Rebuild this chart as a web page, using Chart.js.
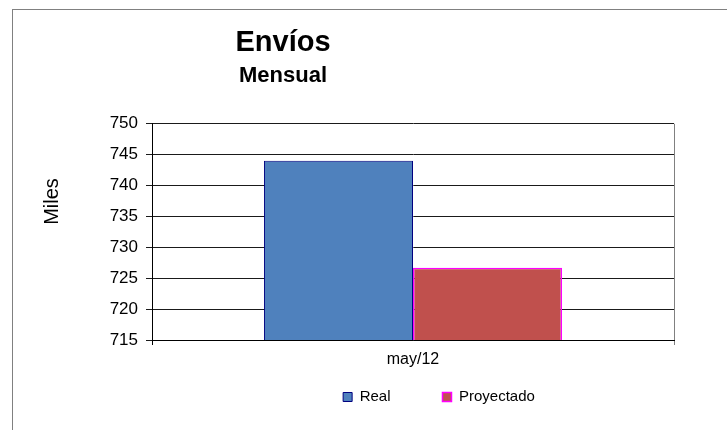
<!DOCTYPE html>
<html>
<head>
<meta charset="utf-8">
<script src="https://cdn.jsdelivr.net/npm/chart.js@4.4.1/dist/chart.umd.min.js"></script>
<style>
html, body { margin: 0; padding: 0; background: #fff; overflow: hidden; }
#frame { position: absolute; left: 12px; top: 9px; width: 760px; height: 460px;
         border-left: 1px solid #808080; border-top: 1px solid #808080; }
#wrap { position: absolute; left: 0; top: 0; width: 727px; height: 430px; }
</style>
</head>
<body>
<div id="frame"></div>
<div id="wrap"><canvas id="chart" width="727" height="430"></canvas></div>
<script>
const CATEGORIES = ['may/12'];
const REAL = [744.0];
const PROYECTADO = [726.7];
const SERIES_NAMES = ['Real', 'Proyectado'];
const Y_MIN = 715, Y_MAX = 750, Y_STEP = 5;
const TITLE = 'Envíos';
const SUBTITLE = 'Mensual';
const AXIS_TITLE = 'Miles';

const FONT = '"Liberation Sans", Arial, sans-serif';
Chart.defaults.font.family = FONT;
Chart.defaults.color = '#000';

// Excel left the titles off-centre and the legend right of centre; move the boxes after layout
const excelPlacement = {
    id: 'excelPlacement',
    afterLayout(chart) {
        chart.boxes.forEach(b => {
            if (b.options && typeof b.options.text === 'string') { b.left = 0; b.right = 566; }
        });
        const lg = chart.legend;
        lg.left = 239; lg.right = 639;
        lg.top = 337.5; lg.bottom = 430;
    },
    afterDraw(chart) {
        const ctx = chart.ctx;
        ctx.save();
        ctx.translate(58, 201.5);
        ctx.rotate(-Math.PI / 2);
        ctx.font = '20px ' + FONT;
        ctx.fillStyle = '#000';
        ctx.textAlign = 'center';
        ctx.textBaseline = 'alphabetic';
        ctx.fillText(AXIS_TITLE, 0, 0);
        ctx.restore();
    }
};

new Chart(document.getElementById('chart'), {
    type: 'bar',
    data: {
        labels: CATEGORIES,
        datasets: [{
            label: SERIES_NAMES[0],
            data: REAL,
            backgroundColor: '#4F81BD',
            borderColor: '#000080',
            borderWidth: 1,
            borderSkipped: false
        }, {
            label: SERIES_NAMES[1],
            data: PROYECTADO,
            backgroundColor: '#C0504D',
            borderColor: '#FF00FF',
            borderWidth: 1.5,
            borderSkipped: false
        }]
    },
    options: {
        responsive: false,
        animation: false,
        categoryPercentage: 0.571,
        barPercentage: 1,
        layout: { padding: { left: 0, right: 53, top: 0, bottom: 0 } },
        scales: {
            x: {
                offset: true,
                grid: {
                    offset: true,
                    color: ctx => ctx.index === 0 ? '#000' : '#808080',
                    lineWidth: 1,
                    tickLength: 5
                },
                border: { color: '#000', width: 1 },
                ticks: { font: { size: 16 }, padding: 5, color: '#000' },
                afterFit: s => { s.height = 50; }
            },
            y: {
                min: Y_MIN,
                max: Y_MAX,
                ticks: { stepSize: Y_STEP, font: { size: 17 }, padding: 8, color: '#000' },
                grid: { color: '#1a1a1a', lineWidth: 1, tickLength: 6 },
                border: { color: '#000', width: 1 },
                afterFit: s => { s.width = 152; }
            }
        },
        plugins: {
            title: {
                display: true,
                text: TITLE,
                font: { size: 29, weight: 'bold' },
                color: '#000',
                padding: { top: 25.6, bottom: 0 }
            },
            subtitle: {
                display: true,
                text: SUBTITLE,
                font: { size: 22, weight: 'bold' },
                color: '#000',
                padding: { top: 2, bottom: 35 }
            },
            legend: {
                position: 'bottom',
                maxHeight: 40,
                labels: {
                    boxWidth: 9,
                    boxHeight: 9,
                    padding: 52,
                    font: { size: 15 },
                    color: '#000'
                }
            },
            tooltip: { enabled: false }
        }
    },
    plugins: [excelPlacement]
});
</script>
</body>
</html>
